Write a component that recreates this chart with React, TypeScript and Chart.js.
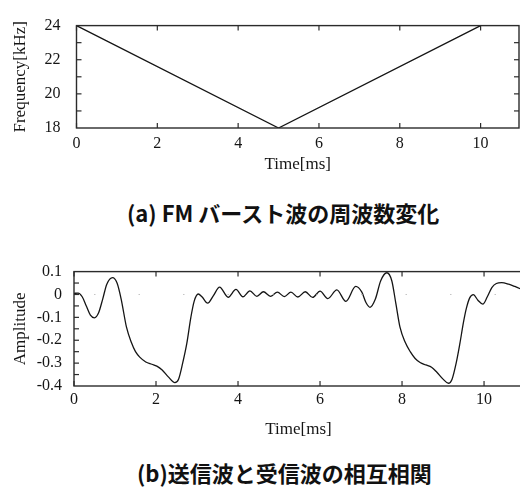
import React, { useEffect, useRef } from "react";
import { Chart, registerables } from "chart.js";

Chart.register(...registerables);

// ---- data: (a) FM burst frequency sweep ----
const freqTime = [0, 5, 10];
const freqKHz = [24, 18, 24];
const freqTicks = [18, 20, 22, 24];
const freqMinorTicks = [19, 20, 21, 22, 23];

// ---- data: (b) cross-correlation of transmitted and received waves ----
const corrTime = [
  0.0, 0.1, 0.2, 0.3, 0.4, 0.5, 0.6, 0.7, 0.8, 0.94, 1.05, 1.15, 1.28, 1.4, 1.5, 1.61, 1.75, 1.9, 2.02,
  2.15, 2.3, 2.46, 2.55, 2.65, 2.75, 2.85, 2.93, 3.03, 3.12, 3.26, 3.4, 3.55, 3.76, 3.95, 4.12, 4.29,
  4.46, 4.62, 4.79, 4.96, 5.13, 5.29, 5.46, 5.64, 5.82, 6.0, 6.19, 6.41, 6.63, 6.87, 7.02, 7.12, 7.22,
  7.35, 7.48, 7.63, 7.75, 7.85, 7.95, 8.08, 8.2, 8.32, 8.44, 8.58, 8.72, 8.85, 9.0, 9.13, 9.22, 9.32,
  9.41, 9.5, 9.57, 9.65, 9.74, 9.85, 9.97, 10.08, 10.19, 10.3, 10.43, 10.6, 10.75, 10.95,
];
const corrAmp = [
  0.005, 0.006, -0.01, -0.05, -0.09, -0.102, -0.08, -0.02, 0.045, 0.074, 0.05, -0.02, -0.143, -0.21,
  -0.25, -0.275, -0.295, -0.305, -0.313, -0.33, -0.36, -0.385, -0.37, -0.3, -0.215, -0.1, -0.03, 0.002,
  -0.01, -0.038, -0.005, 0.032, -0.012, 0.022, -0.01, 0.016, -0.008, 0.012, -0.008, 0.01, -0.009, 0.01,
  -0.011, 0.012, -0.013, 0.015, -0.018, 0.02, -0.03, 0.035, 0.01, -0.035, -0.056, -0.02, 0.06, 0.095,
  0.06, -0.04, -0.143, -0.21, -0.25, -0.28, -0.297, -0.308, -0.318, -0.34, -0.37, -0.388, -0.37, -0.3,
  -0.215, -0.12, -0.06, -0.015, -0.001, -0.025, -0.042, -0.01, 0.03, 0.048, 0.052, 0.045, 0.035, 0.02,
];
const ampTicks = [0.1, 0, -0.1, -0.2, -0.3, -0.4];
const ampMinorTicks = [0.05, 0, -0.05, -0.1, -0.15, -0.2, -0.25, -0.3, -0.35];

const timeTicks = [0, 2, 4, 6, 8, 10];

const SERIF = "'Liberation Serif', 'DejaVu Serif', serif";
const INK = "#151515";

const framePlugin = {
  id: "frame",
  afterDatasetsDraw(chart: any, _args: any, opts: any) {
    const { ctx, chartArea: a, scales } = chart;
    ctx.save();
    ctx.strokeStyle = "#2b2b2b";
    ctx.lineWidth = 1.4;
    ctx.strokeRect(a.left, a.top, a.right - a.left, a.bottom - a.top);
    ctx.lineWidth = 1.2;
    const seg = (x1: number, y1: number, x2: number, y2: number) => {
      ctx.beginPath();
      ctx.moveTo(x1, y1);
      ctx.lineTo(x2, y2);
      ctx.stroke();
    };
    for (const v of opts.xTicks || []) {
      const px = scales.x.getPixelForValue(v);
      seg(px, a.bottom, px, a.bottom - 5);
      seg(px, a.top, px, a.top + 5);
    }
    for (const v of opts.yTicks || []) {
      const py = scales.y.getPixelForValue(v);
      seg(a.left, py, a.left + 5, py);
      if (opts.right) seg(a.right, py, a.right - 5, py);
    }
    if (opts.zero !== undefined && opts.zero !== null) {
      const py = scales.y.getPixelForValue(opts.zero);
      ctx.strokeStyle = "#c4c4c4";
      ctx.lineWidth = 1;
      ctx.setLineDash([1.5, 43]);
      ctx.lineDashOffset = -20;
      seg(a.left, py, a.right, py);
    }
    ctx.restore();
  },
};

function makeOptions(cfg: {
  xMax: number;
  yMin: number;
  yMax: number;
  yTickValues: number[];
  yLabel: string;
  yWidth: number;
  yPad: number;
  xHeight: number;
  xPad: number;
  xTitlePad: number;
  padTop: number;
  padRight: number;
  fmt: (v: number) => string;
  frame: any;
}) {
  return {
    animation: false,
    responsive: false,
    devicePixelRatio: 1,
    layout: { padding: { top: cfg.padTop, right: cfg.padRight, left: 0, bottom: 0 } },
    plugins: {
      legend: { display: false },
      tooltip: { enabled: false },
      frame: cfg.frame,
    },
    scales: {
      x: {
        type: "linear",
        min: 0,
        max: cfg.xMax,
        afterFit: (s: any) => {
          s.height = cfg.xHeight;
        },
        afterBuildTicks: (s: any) => {
          s.ticks = timeTicks.map((v) => ({ value: v }));
        },
        ticks: {
          padding: cfg.xPad,
          color: INK,
          font: { family: SERIF, size: 16 },
          maxRotation: 0,
          autoSkip: false,
          callback: (v: any) => String(v),
        },
        grid: { display: false, drawTicks: false },
        border: { display: false },
        title: {
          display: true,
          text: "Time[ms]",
          color: INK,
          font: { family: SERIF, size: 17 },
          padding: { top: cfg.xTitlePad, bottom: 0 },
        },
      },
      y: {
        type: "linear",
        min: cfg.yMin,
        max: cfg.yMax,
        afterFit: (s: any) => {
          s.width = cfg.yWidth;
        },
        afterBuildTicks: (s: any) => {
          s.ticks = cfg.yTickValues.map((v) => ({ value: v }));
        },
        ticks: {
          padding: cfg.yPad,
          color: INK,
          font: { family: SERIF, size: 16 },
          autoSkip: false,
          callback: (v: any) => cfg.fmt(Number(v)),
        },
        grid: { display: false, drawTicks: false },
        border: { display: false },
        title: {
          display: true,
          text: cfg.yLabel,
          color: INK,
          font: { family: SERIF, size: 17 },
          padding: { top: 10, bottom: 0 },
        },
      },
    },
  } as any;
}

export default function App() {
  const freqRef = useRef<HTMLCanvasElement | null>(null);
  const corrRef = useRef<HTMLCanvasElement | null>(null);

  useEffect(() => {
    document.body.style.margin = "0";
    const c1 = new Chart(freqRef.current as HTMLCanvasElement, {
      type: "line",
      data: {
        datasets: [
          {
            data: freqTime.map((t, i) => ({ x: t, y: freqKHz[i] })),
            borderColor: INK,
            borderWidth: 1.3,
            pointRadius: 0,
            tension: 0,
            fill: false,
          },
        ],
      },
      options: makeOptions({
        xMax: 10.95,
        yMin: 18,
        yMax: 24,
        yTickValues: freqTicks,
        yLabel: "Frequency[kHz]",
        yWidth: 76.5,
        yPad: 16,
        xHeight: 47,
        xPad: 6,
        xTitlePad: 4,
        padTop: 15,
        padRight: 1,
        fmt: (v) => String(v),
        frame: { xTicks: timeTicks, yTicks: freqMinorTicks, right: true },
      }),
      plugins: [framePlugin],
    } as any);

    const c2 = new Chart(corrRef.current as HTMLCanvasElement, {
      type: "line",
      data: {
        datasets: [
          {
            data: corrTime.map((t, i) => ({ x: t, y: corrAmp[i] })),
            borderColor: INK,
            borderWidth: 1.3,
            pointRadius: 0,
            cubicInterpolationMode: "monotone",
            fill: false,
          },
        ],
      },
      options: makeOptions({
        xMax: 10.95,
        yMin: -0.4,
        yMax: 0.1,
        yTickValues: ampTicks,
        yLabel: "Amplitude",
        yWidth: 74,
        yPad: 12,
        xHeight: 54,
        xPad: 4,
        xTitlePad: 5,
        padTop: 21,
        padRight: 7,
        fmt: (v) => String(Math.round(v * 10) / 10),
        frame: { xTicks: timeTicks, yTicks: ampMinorTicks, right: false, zero: 0 },
      }),
      plugins: [framePlugin],
    } as any);

    return () => {
      c1.destroy();
      c2.destroy();
    };
  }, []);

  const caption: React.CSSProperties = {
    position: "absolute",
    fontFamily: "'Noto Sans CJK JP', 'Noto Sans', sans-serif",
    fontWeight: 700,
    fontSize: 22,
    lineHeight: "24px",
    color: "#111",
    whiteSpace: "nowrap",
  };

  return (
    <div style={{ position: "relative", width: 520, height: 490, overflow: "hidden", background: "#fff" }}>
      <canvas
        ref={freqRef}
        width={520}
        height={175}
        style={{ position: "absolute", left: 0, top: 0, width: 520, height: 175 }}
      />
      <div style={{ ...caption, left: 127, top: 200 }}>(a) FM バースト波の周波数変化</div>
      <canvas
        ref={corrRef}
        width={530}
        height={190}
        style={{ position: "absolute", left: 0, top: 250, width: 530, height: 190 }}
      />
      <div style={{ ...caption, left: 137, top: 460 }}>(b)送信波と受信波の相互相関</div>
    </div>
  );
}
